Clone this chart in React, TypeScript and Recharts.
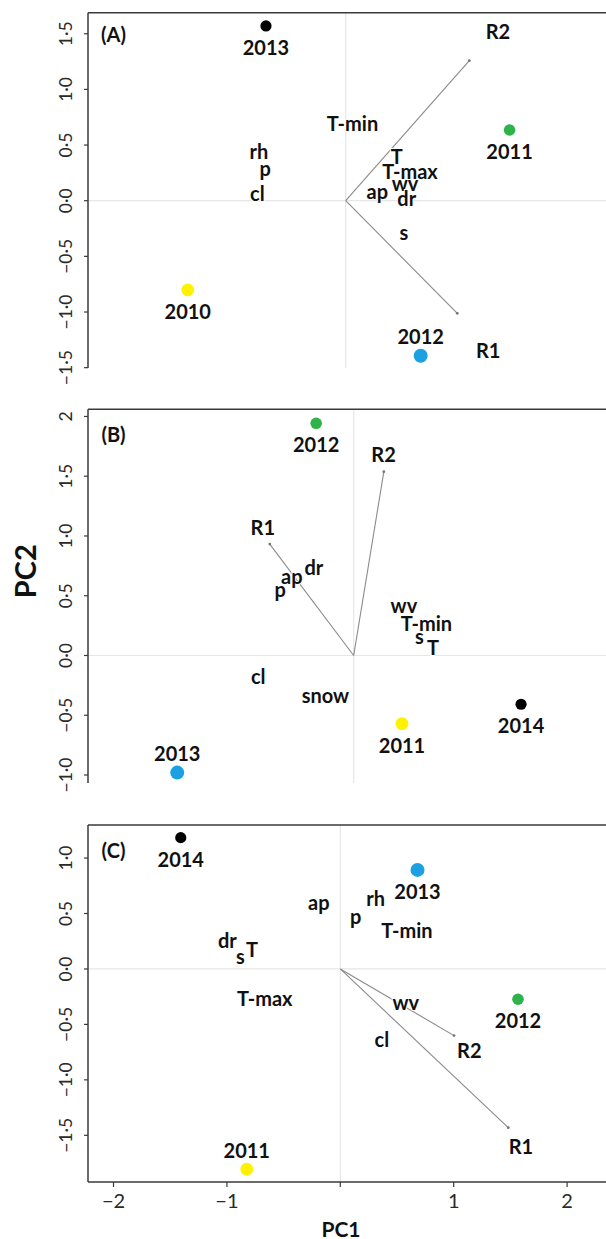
import React from 'react';
import { ScatterChart, Scatter, XAxis, YAxis, ReferenceLine } from 'recharts';

// ---------- Panel A ----------
const yearsA = ['2010', '2011', '2012', '2013'];
const yearsAx = [-1.393, 1.445, 0.661, -0.703];
const yearsAy = [-0.802, 0.635, -1.393, 1.57];
const varsA = ['T-min', 'T', 'T-max', 'wv', 'ap', 'dr', 's', 'rh', 'p', 'cl'];
const varsAx = [0.06, 0.45, 0.567, 0.523, 0.279, 0.538, 0.514, -0.765, -0.71, -0.779];
const varsAy = [0.695, 0.402, 0.27, 0.162, 0.087, 0.022, -0.284, 0.449, 0.291, 0.072];
const respA = ['R1', 'R2'];
const respAx = [0.984, 1.09];
const respAy = [-1.012, 1.258];
const respLabelAx = [1.257, 1.342];
const respLabelAy = [-1.341, 1.527];
const yTicksA = [-1.5, -1, -0.5, 0, 0.5, 1, 1.5];
const yTickLabelsA = ['−1·5', '−1·0', '−0·5', '0·0', '0·5', '1·0', '1·5'];

// ---------- Panel B ----------
const yearsB = ['2011', '2012', '2013', '2014'];
const yearsBx = [0.426, -0.331, -1.556, 1.476];
const yearsBy = [-0.57, 1.943, -0.98, -0.408];
const varsB = ['dr', 'ap', 'p', 'wv', 'T-min', 's', 'T', 'cl', 'snow'];
const varsBx = [-0.351, -0.546, -0.648, 0.443, 0.641, 0.579, 0.699, -0.842, -0.249];
const varsBy = [0.742, 0.664, 0.553, 0.421, 0.276, 0.164, 0.072, -0.171, -0.327];
const respB = ['R1', 'R2'];
const respBx = [-0.74, 0.266];
const respBy = [0.932, 1.538];
const respLabelBx = [-0.801, 0.263];
const respLabelBy = [1.077, 1.683];
const yTicksB = [-1, -0.5, 0, 0.5, 1, 1.5, 2];
const yTickLabelsB = ['−1·0', '−0·5', '0·0', '0·5', '1·0', '1·5', '2'];

// ---------- Panel C ----------
const yearsC = ['2011', '2012', '2013', '2014'];
const yearsCx = [-0.825, 1.567, 0.681, -1.407];
const yearsCy = [-1.806, -0.273, 0.893, 1.184];
const varsC = ['ap', 'rh', 'p', 'T-min', 'dr', 's', 'T', 'T-max', 'wv', 'cl'];
const varsCx = [-0.189, 0.312, 0.135, 0.588, -0.996, -0.881, -0.779, -0.666, 0.578, 0.367];
const varsCy = [0.607, 0.638, 0.478, 0.352, 0.261, 0.12, 0.18, -0.259, -0.295, -0.634];
const respC = ['R1', 'R2'];
const respCx = [1.481, 1.003];
const respCy = [-1.431, -0.601];
const respLabelCx = [1.593, 1.138];
const respLabelCy = [-1.596, -0.73];
const yTicksC = [-1.5, -1, -0.5, 0, 0.5, 1];
const yTickLabelsC = ['−1·5', '−1·0', '−0·5', '0·0', '0·5', '1·0'];
const xTicks = [-2, -1, 0, 1, 2];
const xTickLabels = ['−2', '−1', '', '1', '2'];

// ---------- styling ----------
const FONT = 'Lato, "Open Sans", "DejaVu Sans", sans-serif';
const yearColors = ['#FFF200', '#2DB34A', '#1BA1E2', '#000000'];
const yearRadii = [6.4, 5.8, 7, 5.6];
const BOX = '#3a3a3a';

type Panel = {
  letter: string;
  top: number;
  height: number;
  marginTop: number;
  marginBottom: number;
  xAxisHeight: number;
  xDomain: [number, number];
  yDomain: [number, number];
  yTicks: number[];
  yTickLabels: string[];
  years: string[];
  yx: number[];
  yy: number[];
  labelAbove: string[];
  vars: string[];
  vx: number[];
  vy: number[];
  resp: string[];
  rx: number[];
  ry: number[];
  rlx: number[];
  rly: number[];
  letterDy: number;
  showX: boolean;
  showPC2: boolean;
};

const panels: Panel[] = [
  {
    letter: '(A)', top: 0, height: 392, marginTop: 12.7, marginBottom: 24, xAxisHeight: 0,
    xDomain: [-2.2725, 2.5952], yDomain: [-1.503, 1.689],
    yTicks: yTicksA, yTickLabels: yTickLabelsA,
    years: yearsA, yx: yearsAx, yy: yearsAy, labelAbove: ['2012'],
    vars: varsA, vx: varsAx, vy: varsAy,
    resp: respA, rx: respAx, ry: respAy, rlx: respLabelAx, rly: respLabelAy,
    letterDy: 21.5, showX: false, showPC2: false,
  },
  {
    letter: '(B)', top: 390, height: 417, marginTop: 19.3, marginBottom: 24, xAxisHeight: 0,
    xDomain: [-2.343, 2.525], yDomain: [-1.067, 2.06],
    yTicks: yTicksB, yTickLabels: yTickLabelsB,
    years: yearsB, yx: yearsBx, yy: yearsBy, labelAbove: ['2013'],
    vars: varsB, vx: varsBx, vy: varsBy,
    resp: respB, rx: respBx, ry: respBy, rlx: respLabelBx, rly: respLabelBy,
    letterDy: 24.7, showX: false, showPC2: true,
  },
  {
    letter: '(C)', top: 800, height: 439, marginTop: 25, marginBottom: 0, xAxisHeight: 57,
    xDomain: [-2.225, 2.643], yDomain: [-1.921, 1.298],
    yTicks: yTicksC, yTickLabels: yTickLabelsC,
    years: yearsC, yx: yearsCx, yy: yearsCy, labelAbove: ['2011'],
    vars: varsC, vx: varsCx, vy: varsCy,
    resp: respC, rx: respCx, ry: respCy, rlx: respLabelCx, rly: respLabelCy,
    letterDy: 25, showX: true, showPC2: false,
  },
];

const textStyle = {
  fontFamily: FONT,
  fontWeight: 700,
  fontSize: 20,
  fill: '#111',
};

const LabelText = (props: any) => {
  const { cx, cy, payload } = props;
  if (cx == null || cy == null) return null;
  return (
    <text
      x={cx}
      y={cy}
      textAnchor="middle"
      dominantBaseline="central"
      stroke="#fff"
      strokeWidth={2}
      paintOrder="stroke"
      style={textStyle}
    >
      {payload.name}
    </text>
  );
};

const ArrowTip = (props: any) => {
  const { cx, cy } = props;
  if (cx == null || cy == null) return null;
  return <circle cx={cx} cy={cy} r={1.4} fill="#777" />;
};

const YearMark = (props: any) => {
  const { cx, cy, payload } = props;
  if (cx == null || cy == null) return null;
  const dy = payload.above ? -19.5 : 21;
  return (
    <g>
      <circle cx={cx} cy={cy} r={payload.r} fill={payload.color} />
      <text x={cx} y={cy + dy} textAnchor="middle" dominantBaseline="central" style={textStyle}>
        {payload.name}
      </text>
    </g>
  );
};

const makeYTick = (p: Panel) => (props: any) => {
  const { x, y, payload } = props;
  const idx = p.yTicks.indexOf(payload.value);
  const label = idx >= 0 ? p.yTickLabels[idx] : '';
  const tx = x - 16;
  return (
    <text
      x={tx}
      y={y}
      transform={`rotate(-90 ${tx} ${y})`}
      textAnchor="middle"
      dominantBaseline="central"
      fontFamily={FONT}
      fontSize={17.5}
      fill="#2a2a2a"
    >
      {label}
    </text>
  );
};

const PC2Label = (props: any) => {
  const vb = props.viewBox || { x: 0, y: 0, width: 0, height: 0 };
  const cx = vb.x + 25;
  const cy = vb.y + vb.height / 2 - 25;
  return (
    <text
      x={cx}
      y={cy}
      transform={`rotate(-90 ${cx} ${cy})`}
      textAnchor="middle"
      dominantBaseline="central"
      fontFamily={FONT}
      fontWeight={700}
      fontSize={29}
      fill="#111"
    >
      PC2
    </text>
  );
};

const PC1Label = (props: any) => {
  const vb = props.viewBox || { x: 0, y: 0, width: 0, height: 0 };
  const cx = vb.x + 253;
  const cy = vb.y + 46;
  return (
    <text x={cx} y={cy} textAnchor="middle" dominantBaseline="central" fontFamily={FONT} fontWeight={700} fontSize={21} fill="#111">
      PC1
    </text>
  );
};

const LetterLabel = (letter: string, dy: number) => (props: any) => {
  const vb = props.viewBox || { x: 0, y: 0 };
  return (
    <text x={vb.x + 25.5} y={vb.y + dy} textAnchor="middle" dominantBaseline="central" fontFamily={FONT} fontWeight={700} fontSize={20} fill="#111">
      {letter}
    </text>
  );
};

const PanelChart = ({ p }: { p: Panel }) => {
  const yearData = p.years.map((name, i) => ({
    x: p.yx[i],
    y: p.yy[i],
    name,
    color: yearColors[i],
    r: yearRadii[i],
    above: p.labelAbove.includes(name),
  }));
  const varData = p.vars.map((name, i) => ({ x: p.vx[i], y: p.vy[i], name }));
  const respLabelData = p.resp.map((name, i) => ({ x: p.rlx[i], y: p.rly[i], name }));
  const tipData = p.resp.map((name, i) => ({ x: p.rx[i], y: p.ry[i], name }));
  return (
    <div style={{ position: 'absolute', left: 0, top: p.top }}>
      <ScatterChart
        width={640}
        height={p.height}
        margin={{ top: p.marginTop, right: 0, bottom: p.marginBottom, left: 0 }}
      >
        <XAxis
          type="number"
          dataKey="x"
          domain={p.xDomain}
          allowDataOverflow
          ticks={p.showX ? xTicks : []}
          tickFormatter={(v: number) => {
            const i = xTicks.indexOf(v);
            return i >= 0 ? xTickLabels[i] : '';
          }}
          tick={p.showX ? { fontFamily: FONT, fontSize: 20, fill: '#2a2a2a' } : false}
          tickLine={p.showX ? { stroke: BOX, strokeWidth: 1.2 } : false}
          tickSize={5}
          tickMargin={7}
          height={p.xAxisHeight}
          axisLine={{ stroke: BOX, strokeWidth: 1.5 }}
          label={p.showX ? <PC1Label /> : undefined}
        />
        <YAxis
          type="number"
          dataKey="y"
          domain={p.yDomain}
          allowDataOverflow
          ticks={p.yTicks}
          tick={makeYTick(p)}
          tickLine={{ stroke: BOX, strokeWidth: 1.2 }}
          tickSize={4}
          tickMargin={2}
          width={88}
          axisLine={{ stroke: BOX, strokeWidth: 1.5 }}
          label={p.showPC2 ? <PC2Label /> : undefined}
        />
        <ReferenceLine x={0} stroke="#e6e6e6" strokeWidth={1.2} />
        <ReferenceLine y={0} stroke="#e6e6e6" strokeWidth={1.2} />
        <ReferenceLine
          y={p.yDomain[1]}
          stroke={BOX}
          strokeWidth={1.5}
          label={LetterLabel(p.letter, p.letterDy)}
        />
        {p.resp.map((name, i) => (
          <ReferenceLine
            key={name}
            segment={[
              { x: 0, y: 0 },
              { x: p.rx[i], y: p.ry[i] },
            ]}
            stroke="#8a8a8a"
            strokeWidth={1.1}
          />
        ))}
        <Scatter data={tipData} shape={ArrowTip} isAnimationActive={false} />
        <Scatter data={varData} shape={LabelText} isAnimationActive={false} />
        <Scatter data={respLabelData} shape={LabelText} isAnimationActive={false} />
        <Scatter data={yearData} shape={YearMark} isAnimationActive={false} />
      </ScatterChart>
    </div>
  );
};

export default function App() {
  return (
    <div
      style={{
        position: 'fixed',
        left: 0,
        top: 0,
        width: 606,
        height: 1239,
        overflow: 'hidden',
        background: '#fff',
      }}
    >
      {panels.map((p) => (
        <PanelChart key={p.letter} p={p} />
      ))}
    </div>
  );
}
